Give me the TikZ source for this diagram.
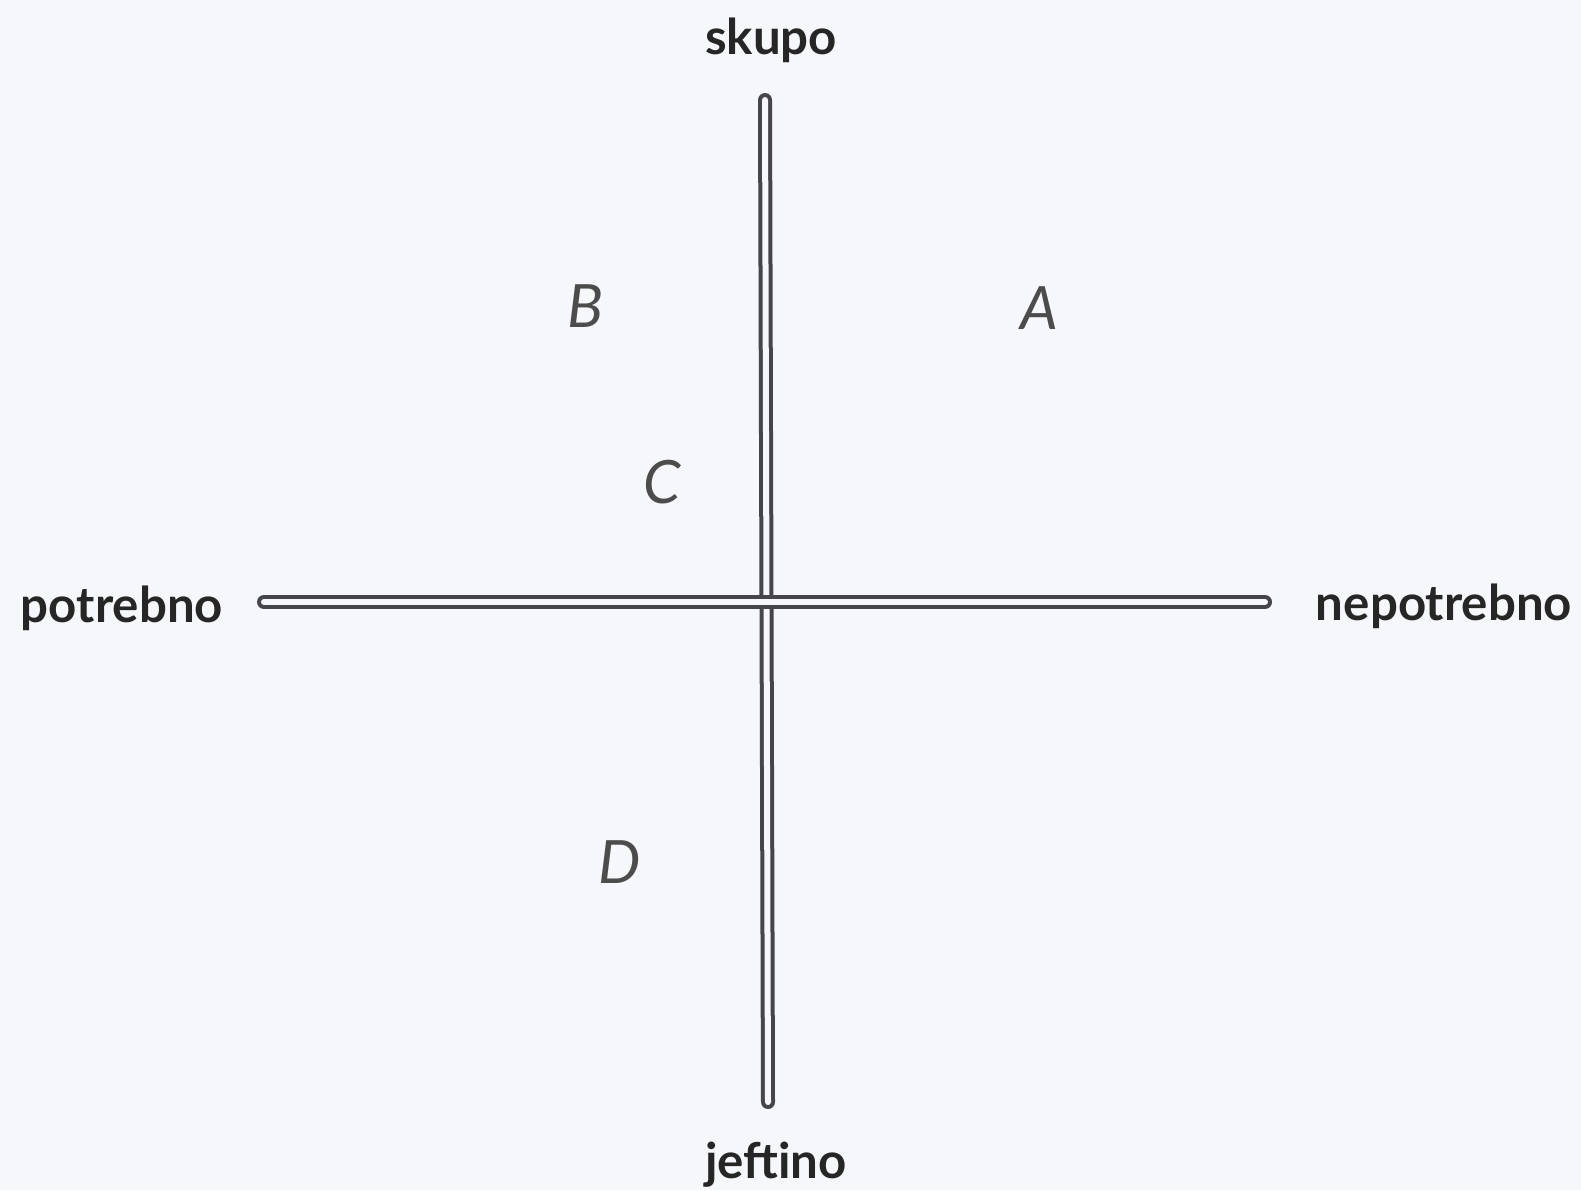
\documentclass[tikz,border=0pt]{standalone}
\usepackage{fontspec}
\setmainfont{Lato}
\usetikzlibrary{calc}
\definecolor{papir}{RGB}{246,247,250}
\definecolor{crta}{RGB}{70,70,74}
\tikzset{
  os/.style={draw=crta, line width=0.04cm, double=papir, double distance=0.06cm, line cap=round},
  kraj/.style={font=\fontsize{14}{16}\selectfont\bfseries, text=black!85},
  polje/.style={font=\fontsize{17}{20}\selectfont\itshape, text=black!70}
}

\begin{document}
\begin{tikzpicture}[x=0.01cm,y=-0.01cm]
\fill[papir] (0,0) rectangle (1581,1190);
\useasboundingbox (0,0) rectangle (1581,1190);
\coordinate (T) at (765,100); \coordinate (U) at (768,1102); \coordinate (L) at (264,602); \coordinate (R) at (1265,602);
\draw[os] (T)--(U);
\draw[os] (L)--(R);
\node[kraj] (skupo) at (771,40) {skupo};
\node[kraj] (jeftino) at (776,1165) {jeftino};
\node[kraj] (potrebno) at (122,608) {potrebno};
\node[kraj] (nepotrebno) at (1444,606) {nepotrebno};
\node[polje] (a) at (1039,308) {A};
\node[polje] (b) at (585,306) {B};
\node[polje] (c) at (662,482) {C};
\node[polje] (d) at (620,862) {D};
\end{tikzpicture}
\end{document}
